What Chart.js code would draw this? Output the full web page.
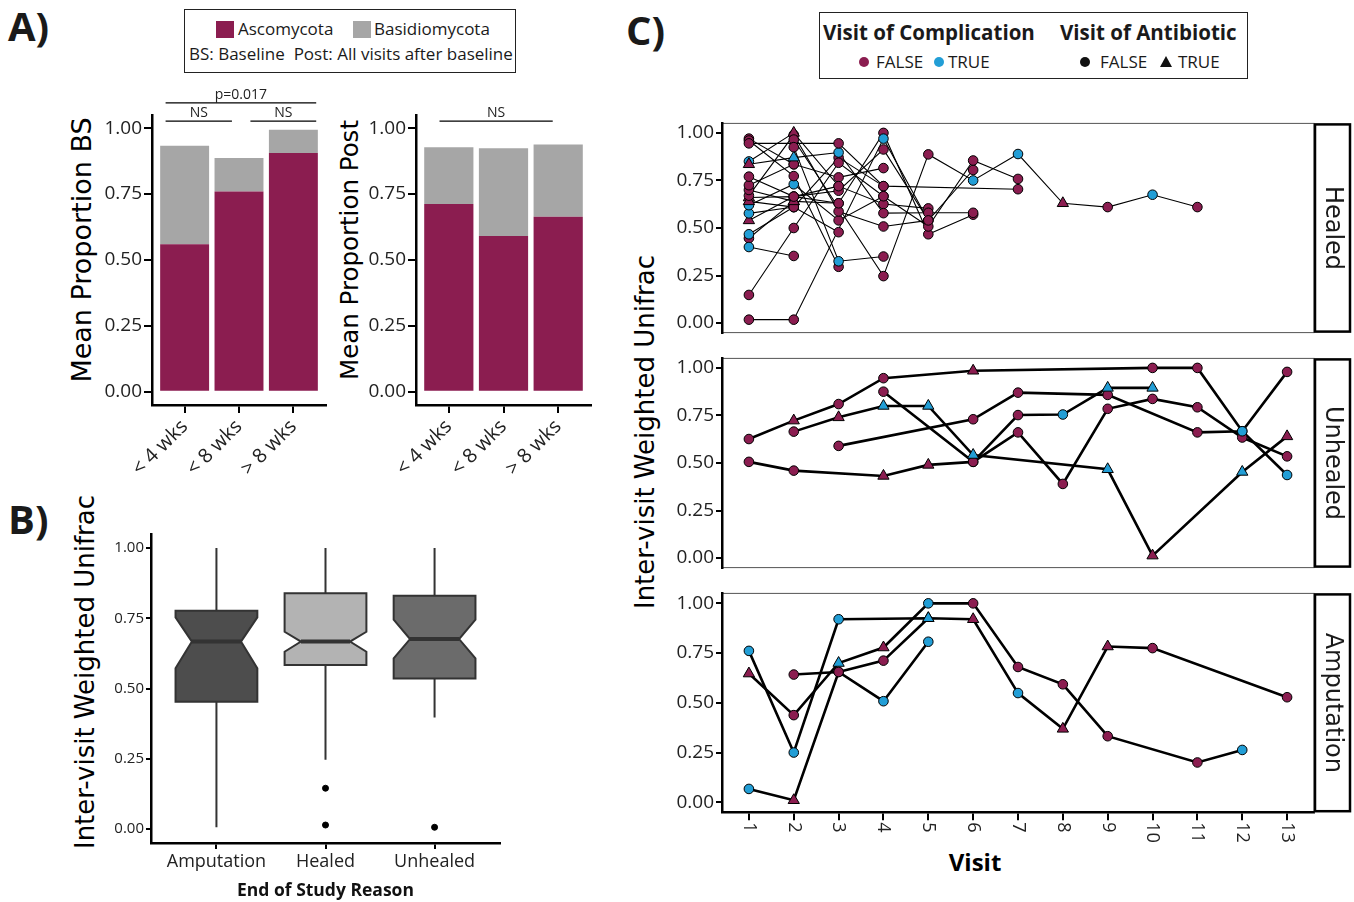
<!DOCTYPE html>
<html>
<head>
<meta charset="utf-8">
<title>Fungal proportions and inter-visit Unifrac</title>
<script src="https://cdn.jsdelivr.net/npm/chart.js@4.4.1/dist/chart.umd.min.js"></script>
<style>
  body { margin: 0; background: #fff; font-family: "Open Sans", sans-serif; color: #1a1a1a; }
  #page { position: relative; width: 1354px; height: 902px; overflow: hidden; }
  #page > * { position: absolute; }
  .tag { font-weight: 700; font-size: 40px; line-height: 40px; color: #1a1a1a; }
  .box { border: 1.5px solid #222; box-sizing: border-box; }
  .t { white-space: nowrap; line-height: 20px; font-size: 17px; }
  .b { font-weight: 700; font-size: 20.5px; line-height: 22px; }
  .dot { width: 10px; height: 10px; border-radius: 50%; }
  .ytitle { font-family: "DejaVu Sans", sans-serif; color: #000; white-space: nowrap; transform: translate(-50%, -50%) rotate(-90deg); }
</style>
</head>
<body>
<div id="page">
  <div class="tag" style="left:8px;top:6px">A)</div>
  <div class="tag" style="left:8px;top:499px">B)</div>
  <div class="tag" style="left:626px;top:10px">C)</div>

  <!-- legend A -->
  <div class="box" style="left:184px;top:9px;width:332px;height:64px"></div>
  <div style="left:216px;top:21px;width:18px;height:17px;background:#8b1d50"></div>
  <div class="t" style="left:238px;top:19px">Ascomycota</div>
  <div style="left:353px;top:21px;width:18px;height:17px;background:#a6a6a6"></div>
  <div class="t" style="left:374px;top:19px">Basidiomycota</div>
  <div class="t" style="left:189px;top:44px">BS: Baseline&nbsp; Post: All visits after baseline</div>

  <!-- legend C -->
  <div class="box" style="left:819px;top:12px;width:429px;height:67px"></div>
  <div class="t b" style="left:823px;top:21px">Visit of Complication</div>
  <div class="t b" style="left:1060px;top:21px">Visit of Antibiotic</div>
  <div class="dot" style="left:859px;top:57px;background:#8b1d50"></div>
  <div class="t" style="left:876px;top:52px">FALSE</div>
  <div class="dot" style="left:934px;top:57px;background:#229ed6"></div>
  <div class="t" style="left:948px;top:52px">TRUE</div>
  <div class="dot" style="left:1080px;top:57px;background:#111"></div>
  <div class="t" style="left:1100px;top:52px">FALSE</div>
  <div style="left:1160px;top:56px;width:0;height:0;border-left:6px solid transparent;border-right:6px solid transparent;border-bottom:11px solid #111"></div>
  <div class="t" style="left:1178px;top:52px">TRUE</div>

  <!-- axis titles -->
  <div class="ytitle" style="left:82px;top:250px;font-size:27px;line-height:30px">Mean Proportion BS</div>
  <div class="ytitle" style="left:350px;top:250px;font-size:24.5px;line-height:28px">Mean Proportion Post</div>
  <div class="ytitle" style="left:85px;top:672px;font-size:26px;line-height:28px">Inter-visit Weighted Unifrac</div>
  <div class="ytitle" style="left:645px;top:432px;font-size:26px;line-height:28px">Inter-visit Weighted Unifrac</div>
  <div class="t" style="left:975px;top:862px;font-size:24px;font-weight:700;line-height:28px;color:#000;transform:translate(-50%,-50%)">Visit</div>

  <canvas id="cBS" width="275" height="400" style="left:60px;top:80px"></canvas>
  <canvas id="cPost" width="275" height="400" style="left:330px;top:80px"></canvas>
  <canvas id="cBox" width="450" height="402" style="left:60px;top:500px"></canvas>
  <canvas id="cHealed" width="734" height="236" style="left:620px;top:110px"></canvas>
  <canvas id="cUnhealed" width="734" height="236" style="left:620px;top:345px"></canvas>
  <canvas id="cAmput" width="734" height="322" style="left:620px;top:580px"></canvas>
</div>
<script>
// ---- data ----
const weekGroups = ["< 4 wks", "< 8 wks", "> 8 wks"];
const ascoBS = [0.56, 0.76, 0.906];
const basidioBS = [0.373, 0.127, 0.088];
const ascoPost = [0.712, 0.591, 0.664];
const basidioPost = [0.216, 0.333, 0.274];
const propTicks = [0, 0.25, 0.5, 0.75, 1];
const sigBS = [
  { from: 0.65, to: 3.42, level: 1.096, label: "p=0.017" },
  { from: 0.65, to: 1.87, level: 1.027, label: "NS" },
  { from: 2.21, to: 3.42, level: 1.027, label: "NS" },
];
const sigPost = [{ from: 0.83, to: 2.9, level: 1.027, label: "NS" }];

const endReasons = ["Amputation", "Healed", "Unhealed"];
const whiskerLow = [0.006, 0.246, 0.397];
const q1 = [0.453, 0.584, 0.536];
const notchLow = [0.572, 0.631, 0.607];
const median = [0.667, 0.667, 0.676];
const notchHigh = [0.753, 0.702, 0.745];
const q3 = [0.777, 0.839, 0.83];
const whiskerHigh = [1.0, 1.0, 1.0];
const outliers = [[], [0.145, 0.014], [0.006]];

const visits = [1, 2, 3, 4, 5, 6, 7, 8, 9, 10, 11, 12, 13];
// each point: [visit, unifrac, complication (0/1), antibiotic (0/1)]
const healedLines = [
  [[1, 0.018, 0, 0], [2, 0.018, 0, 0], [4, 0.97, 1, 0], [5, 0.54, 0, 0]],
  [[1, 0.148, 0, 0], [2, 0.5, 0, 0], [3, 0.843, 0, 0], [4, 0.667, 0, 0], [5, 0.508, 0, 0], [6, 0.855, 0, 0], [7, 0.758, 0, 0]],
  [[1, 0.4, 1, 0], [2, 0.353, 0, 0]],
  [[2, 0.925, 0, 0], [3, 0.325, 1, 0], [4, 0.35, 0, 0]],
  [[1, 0.945, 0, 0], [3, 0.945, 0, 0], [4, 0.72, 0, 0], [7, 0.704, 0, 0]],
  [[1, 0.96, 0, 0], [2, 0.773, 0, 0], [3, 0.296, 0, 0]],
  [[2, 0.965, 0, 0], [4, 0.247, 0, 0], [5, 0.887, 0, 0], [6, 0.75, 1, 0], [7, 0.889, 1, 0], [8, 0.63, 0, 1], [9, 0.61, 0, 0], [10, 0.675, 1, 0], [11, 0.61, 0, 0]],
  [[1, 0.835, 0, 1], [2, 0.87, 1, 1], [3, 0.897, 1, 0], [4, 0.578, 0, 0], [5, 0.58, 0, 0], [6, 0.58, 0, 0]],
  [[1, 0.85, 1, 0], [2, 1.0, 0, 1], [3, 0.72, 0, 0], [4, 0.626, 0, 0], [5, 0.603, 0, 0]],
  [[1, 0.77, 0, 0], [2, 0.665, 0, 0], [3, 0.696, 0, 0], [4, 0.913, 0, 0], [5, 0.54, 0, 0], [6, 0.805, 0, 0]],
  [[1, 0.725, 0, 0], [2, 0.835, 0, 0], [3, 0.766, 0, 0], [4, 0.815, 0, 0]],
  [[1, 0.7, 0, 0], [2, 0.64, 0, 1], [3, 0.63, 0, 0], [4, 1.0, 0, 0], [5, 0.467, 0, 0], [6, 0.57, 0, 0]],
  [[1, 0.67, 0, 0], [2, 0.99, 0, 0], [3, 0.587, 0, 0], [4, 0.508, 0, 0], [5, 0.54, 0, 0]],
  [[1, 0.64, 0, 1], [2, 0.61, 0, 0], [3, 0.87, 0, 0], [4, 0.72, 0, 0]],
  [[1, 0.62, 1, 0], [2, 0.73, 1, 0], [3, 0.54, 0, 0], [4, 0.667, 0, 0]],
  [[1, 0.577, 1, 0], [2, 0.61, 0, 0], [3, 0.478, 0, 0]],
  [[1, 0.54, 0, 1], [2, 0.665, 0, 0], [3, 0.72, 0, 0]],
  [[1, 0.467, 1, 0], [2, 0.61, 0, 0]],
  [[1, 0.446, 0, 0], [2, 0.64, 0, 1]],
  [[1, 0.66, 0, 1], [2, 0.665, 0, 0], [3, 0.63, 0, 0]],
  [[1, 0.97, 0, 0], [2, 0.835, 0, 0]],
];
const unhealedLines = [
  [[1, 0.626, 0, 0], [2, 0.723, 0, 1], [3, 0.81, 0, 0], [4, 0.946, 0, 0], [6, 0.985, 0, 1], [10, 1.0, 0, 0], [11, 1.0, 0, 0], [12, 0.667, 1, 0], [13, 0.437, 1, 0]],
  [[2, 0.665, 0, 0], [3, 0.74, 0, 1], [4, 0.8, 1, 1], [5, 0.8, 1, 1], [6, 0.542, 1, 1], [9, 0.467, 1, 1], [10, 0.013, 0, 1], [12, 0.453, 1, 1], [13, 0.64, 0, 1]],
  [[4, 0.875, 0, 0], [6, 0.506, 0, 0], [7, 0.752, 0, 0], [8, 0.755, 1, 0], [9, 0.895, 1, 1], [10, 0.895, 1, 1]],
  [[1, 0.506, 0, 0], [2, 0.46, 0, 0], [4, 0.432, 0, 1], [5, 0.49, 0, 1], [6, 0.506, 0, 0], [7, 0.661, 0, 0], [8, 0.39, 0, 0], [9, 0.785, 0, 0], [10, 0.837, 0, 0], [11, 0.793, 0, 0], [12, 0.634, 0, 0], [13, 0.535, 0, 0]],
  [[3, 0.59, 0, 0], [6, 0.73, 0, 0], [7, 0.87, 0, 0], [9, 0.858, 0, 0], [11, 0.661, 0, 0], [12, 0.667, 1, 0], [13, 0.979, 0, 0]],
];
const amputationLines = [
  [[1, 0.761, 1, 0], [2, 0.25, 1, 0], [3, 0.92, 1, 0], [5, 0.925, 1, 1], [6, 0.92, 0, 1], [7, 0.549, 1, 0], [8, 0.369, 0, 1], [9, 0.783, 0, 1], [10, 0.775, 0, 0], [13, 0.528, 0, 0]],
  [[1, 0.647, 0, 1], [2, 0.438, 0, 0], [3, 0.7, 1, 1], [4, 0.778, 0, 1], [5, 1.0, 1, 0], [6, 1.0, 0, 0], [7, 0.68, 0, 0], [8, 0.593, 0, 0], [9, 0.332, 0, 0], [11, 0.2, 0, 0], [12, 0.263, 1, 0]],
  [[2, 0.642, 0, 0], [3, 0.655, 0, 0], [4, 0.712, 0, 0], [5, 0.925, 1, 1]],
  [[1, 0.067, 1, 0], [2, 0.01, 0, 1], [3, 0.655, 0, 0], [4, 0.508, 1, 0], [5, 0.807, 1, 0]],
];

// ---- styling ----
const MAGENTA = "#8b1d50";
const CYAN = "#229ed6";
const GRAY = "#a6a6a6";

Chart.defaults.animation = false;
Chart.defaults.responsive = false;
Chart.defaults.events = [];
Chart.defaults.font.family = "'Open Sans', sans-serif";
Chart.defaults.color = "#222";
Chart.defaults.plugins.legend.display = false;
Chart.defaults.plugins.tooltip.enabled = false;

const setWidth = (w) => (s) => { s.width = w; };
const setHeight = (h) => (s) => { s.height = h; };
const useTicks = (vals) => (s) => { s.ticks = vals.map((v) => ({ value: v })); };

function yAxis(width, fontSize, tickLen) {
  return {
    min: -0.05,
    max: 1.05,
    afterBuildTicks: useTicks(propTicks),
    afterFit: setWidth(width),
    ticks: { callback: (v) => v.toFixed(2), font: { size: fontSize }, padding: 2, color: "#222" },
    grid: { drawOnChartArea: false, tickLength: tickLen, color: "#000", lineWidth: 2 },
    border: { color: "#000", width: 2.5 },
  };
}

// significance bars above panel A
const sigPlugin = (sig) => ({
  id: "sig",
  afterDraw(chart) {
    const { ctx, scales: { x, y } } = chart;
    ctx.save();
    ctx.strokeStyle = "#000";
    ctx.lineWidth = 1.2;
    ctx.fillStyle = "#222";
    ctx.font = "14px 'Open Sans'";
    ctx.textAlign = "center";
    ctx.textBaseline = "bottom";
    sig.forEach((s) => {
      const x1 = x.getPixelForValue(s.from);
      const x2 = x.getPixelForValue(s.to);
      const yy = y.getPixelForValue(s.level);
      ctx.beginPath();
      ctx.moveTo(x1, yy);
      ctx.lineTo(x2, yy);
      ctx.stroke();
      ctx.fillText(s.label, (x1 + x2) / 2, yy - 1);
    });
    ctx.restore();
  },
});

function barPanel(id, asco, basidio, sig, padRight, axisWidth) {
  new Chart(document.getElementById(id), {
    type: "bar",
    data: {
      datasets: [
        { data: asco.map((v, i) => ({ x: i + 1, y: v })), backgroundColor: MAGENTA },
        { data: basidio.map((v, i) => ({ x: i + 1, y: v })), backgroundColor: GRAY },
      ],
    },
    options: {
      categoryPercentage: 1,
      barPercentage: 0.9,
      layout: { padding: { top: 35, right: padRight, left: 0, bottom: 0 } },
      scales: {
        x: {
          type: "linear",
          stacked: true,
          offset: false,
          min: 0.4,
          max: 3.6,
          afterBuildTicks: useTicks([1, 2, 3]),
          afterFit: setHeight(75),
          ticks: { callback: (v) => weekGroups[v - 1], minRotation: 45, maxRotation: 45, autoSkip: false, font: { size: 20 }, padding: 2, color: "#222" },
          grid: { drawOnChartArea: false, offset: false, tickLength: 8, color: "#000", lineWidth: 2 },
          border: { color: "#000", width: 2.5 },
        },
        y: Object.assign(yAxis(axisWidth, 19, 8), { stacked: true }),
      },
    },
    plugins: [sigPlugin(sig)],
  });
}

barPanel("cBS", ascoBS, basidioBS, sigBS, 9, 92);
barPanel("cPost", ascoPost, basidioPost, sigPost, 14, 86);

// ---- panel B: notched boxplots ----
const boxPlugin = {
  id: "notchedBox",
  beforeDatasetsDraw(chart, args, opts) {
    const { ctx, scales: { x, y } } = chart;
    const half = x.getPixelForValue(1.375) - x.getPixelForValue(1);
    const inset = half * 0.4;
    ctx.save();
    ctx.strokeStyle = "#333";
    endReasons.forEach((r, i) => {
      const xc = x.getPixelForValue(i + 1);
      const xl = xc - half, xr = xc + half;
      ctx.lineWidth = 2;
      ctx.beginPath();
      ctx.moveTo(xc, y.getPixelForValue(whiskerLow[i]));
      ctx.lineTo(xc, y.getPixelForValue(q1[i]));
      ctx.moveTo(xc, y.getPixelForValue(q3[i]));
      ctx.lineTo(xc, y.getPixelForValue(whiskerHigh[i]));
      ctx.stroke();
      const yq1 = y.getPixelForValue(q1[i]), yq3 = y.getPixelForValue(q3[i]);
      const ynl = y.getPixelForValue(notchLow[i]), ynh = y.getPixelForValue(notchHigh[i]);
      const ym = y.getPixelForValue(median[i]);
      ctx.beginPath();
      ctx.moveTo(xl, yq3);
      ctx.lineTo(xr, yq3);
      ctx.lineTo(xr, ynh);
      ctx.lineTo(xr - inset, ym);
      ctx.lineTo(xr, ynl);
      ctx.lineTo(xr, yq1);
      ctx.lineTo(xl, yq1);
      ctx.lineTo(xl, ynl);
      ctx.lineTo(xl + inset, ym);
      ctx.lineTo(xl, ynh);
      ctx.closePath();
      ctx.fillStyle = opts.fills[i];
      ctx.fill();
      ctx.stroke();
      ctx.lineWidth = 4;
      ctx.beginPath();
      ctx.moveTo(xl + inset, ym);
      ctx.lineTo(xr - inset, ym);
      ctx.stroke();
    });
    ctx.restore();
  },
};

new Chart(document.getElementById("cBox"), {
  type: "scatter",
  data: {
    datasets: [{
      data: outliers.flatMap((arr, i) => arr.map((v) => ({ x: i + 1, y: v }))),
      pointRadius: 3,
      pointBackgroundColor: "#000",
      pointBorderColor: "#000",
    }],
  },
  options: {
    layout: { padding: { top: 34, right: 10, left: 0, bottom: 0 } },
    plugins: { notchedBox: { fills: ["#4d4d4d", "#b3b3b3", "#6b6b6b"] } },
    scales: {
      x: {
        type: "linear",
        min: 0.4,
        max: 3.6,
        afterBuildTicks: useTicks([1, 2, 3]),
        afterFit: setHeight(59),
        ticks: { callback: (v) => endReasons[v - 1], font: { size: 18 }, padding: 2, color: "#222", maxRotation: 0 },
        grid: { drawOnChartArea: false, tickLength: 6, color: "#000", lineWidth: 2 },
        border: { color: "#000", width: 2.5 },
        title: { display: true, text: "End of Study Reason", color: "#111", font: { size: 17.5, weight: "bold" }, padding: { top: 0, bottom: 0 } },
      },
      y: yAxis(91, 15, 5),
    },
  },
  plugins: [boxPlugin],
});

// ---- panel C: faceted visit trajectories ----
const facetPlugin = (name, rotLabels) => ({
  id: "facet",
  beforeDraw(chart) {
    const { ctx, chartArea: a } = chart;
    ctx.save();
    ctx.strokeStyle = "#555";
    ctx.lineWidth = 1;
    ctx.strokeRect(a.left, a.top, a.right - a.left, a.bottom - a.top);
    ctx.restore();
  },
  afterDraw(chart) {
    const { ctx, chartArea: a } = chart;
    ctx.save();
    ctx.fillStyle = "#fff";
    ctx.fillRect(a.right, a.top, 37, a.bottom - a.top);
    ctx.strokeStyle = "#000";
    ctx.lineWidth = 2.5;
    ctx.strokeRect(a.right + 1, a.top + 1, 35, a.bottom - a.top - 2);
    ctx.translate(a.right + 18.5, (a.top + a.bottom) / 2);
    ctx.rotate(Math.PI / 2);
    ctx.font = "24px 'DejaVu Sans'";
    ctx.fillStyle = "#1a1a1a";
    ctx.textAlign = "center";
    ctx.textBaseline = "middle";
    ctx.fillText(name, 0, 0);
    ctx.restore();
    if (rotLabels) {
      const xs = chart.scales.x;
      ctx.save();
      ctx.font = "18px 'Open Sans'";
      ctx.fillStyle = "#222";
      ctx.textAlign = "left";
      ctx.textBaseline = "middle";
      visits.forEach((v) => {
        ctx.save();
        ctx.translate(xs.getPixelForValue(v), a.bottom + 10);
        ctx.rotate(Math.PI / 2);
        ctx.fillText(String(v), 0, 0);
        ctx.restore();
      });
      ctx.restore();
    }
  },
});

function visitPanel(id, lines, name, lineW, padTop, padBottom, showX) {
  const datasets = [];
  lines.forEach((line) => {
    const pts = line.map(([v, val, comp, abx]) => ({ x: v, y: val, comp, abx }));
    datasets.push({ type: "line", data: pts, borderColor: "#000", borderWidth: lineW, pointRadius: 0, order: 2 });
    datasets.push({
      type: "scatter",
      data: pts,
      order: 1,
      pointStyle: pts.map((p) => (p.abx ? "triangle" : "circle")),
      pointRadius: pts.map((p) => (p.abx ? 6.5 : 4.8)),
      pointBackgroundColor: pts.map((p) => (p.comp ? CYAN : MAGENTA)),
      pointBorderColor: "#000",
      pointBorderWidth: 1,
    });
  });
  const xScale = {
    type: "linear",
    display: showX,
    min: 0.4,
    max: 13.6,
    afterBuildTicks: useTicks(visits),
    ticks: { display: false },
    grid: { drawOnChartArea: false, tickLength: 8, color: "#000", lineWidth: 2 },
    border: { color: "#000", width: 2.5 },
  };
  if (showX) xScale.afterFit = setHeight(89.8);
  new Chart(document.getElementById(id), {
    type: "line",
    data: { datasets },
    options: {
      layout: { padding: { top: padTop, right: 40, left: 0, bottom: padBottom } },
      scales: {
        x: xScale,
        y: yAxis(102, 19, 6),
      },
    },
    plugins: [facetPlugin(name, showX)],
  });
}

visitPanel("cHealed", healedLines, "Healed", 1.1, 8, 4, false);
visitPanel("cUnhealed", unhealedLines, "Unhealed", 2.6, 7.8, 4.8, false);
visitPanel("cAmput", amputationLines, "Amputation", 2.6, 7.8, 0, true);
</script>
</body>
</html>
